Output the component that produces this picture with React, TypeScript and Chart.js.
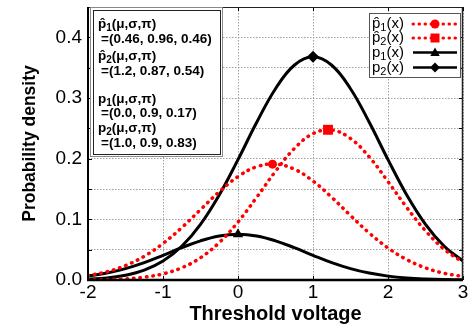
import React, { useEffect, useRef } from "react";
import { Chart, registerables } from "chart.js";

Chart.register(...registerables);

const FONT = '"Liberation Sans", Arial, Helvetica, sans-serif';

// x grid of the curves
const xValues = [-2, -1.75, -1.5, -1.25, -1, -0.75, -0.5, -0.25, 0, 0.25, 0.5, 0.75, 1, 1.25, 1.5, 1.75, 2, 2.25, 2.5, 2.75, 3];
// estimated mixture densities
const pHat1 = [0.0072, 0.0135, 0.0238, 0.0391, 0.0602, 0.0864, 0.116, 0.1455, 0.1705, 0.1867, 0.191, 0.1827, 0.1632, 0.1363, 0.1063, 0.0775, 0.0528, 0.0336, 0.02, 0.0111, 0.0058];
const pHat2 = [0.0003, 0.0008, 0.002, 0.0047, 0.0101, 0.0201, 0.0367, 0.0617, 0.0956, 0.1364, 0.1791, 0.2166, 0.2412, 0.2472, 0.2333, 0.2028, 0.1622, 0.1195, 0.0811, 0.0506, 0.0291];
// true densities
const p1 = [0.0064, 0.0114, 0.0188, 0.0287, 0.0407, 0.0533, 0.0646, 0.0725, 0.0754, 0.0725, 0.0646, 0.0533, 0.0407, 0.0287, 0.0188, 0.0114, 0.0064, 0.0033, 0.0016, 0.0007, 0.0003];
const p2 = [0.0014, 0.0035, 0.0078, 0.0162, 0.0312, 0.0556, 0.0918, 0.1402, 0.1984, 0.26, 0.3153, 0.354, 0.3679, 0.354, 0.3153, 0.26, 0.1984, 0.1402, 0.0918, 0.0556, 0.0312];

// peak markers (pHat1, pHat2, p1, p2)
const peakX = [0.46, 1.2, 0.0, 1.0];
const peakY = [0.191, 0.2476, 0.0754, 0.3679];

const legendBase = ["p\u0302", "p\u0302", "p", "p"];
const legendSub = ["1", "2", "1", "2"];
const markerStyles = ["circle", "rect", "triangle", "diamond"];
const paramLines = ["=(0.46, 0.96, 0.46)", "=(1.2, 0.87, 0.54)", "=(0.0, 0.9, 0.17)", "=(1.0, 0.9, 0.83)"];

const xTickMin = -2;
const xTickMax = 3;
const xTickStep = 1;
const yTickMin = 0;
const yTickMax = 0.45;
const yTickStep = 0.05;

const RED = "#ff0000";
const BLACK = "#000000";

function drawMarker(ctx: CanvasRenderingContext2D, style: string, x: number, y: number, r: number, color: string) {
  ctx.save();
  ctx.fillStyle = color;
  ctx.beginPath();
  if (style === "circle") {
    ctx.arc(x, y, r, 0, Math.PI * 2);
  } else if (style === "rect") {
    ctx.rect(x - r, y - r, 2 * r, 2 * r);
  } else if (style === "triangle") {
    ctx.moveTo(x, y - r * 1.1);
    ctx.lineTo(x + r * 1.05, y + r * 0.75);
    ctx.lineTo(x - r * 1.05, y + r * 0.75);
    ctx.closePath();
  } else {
    ctx.moveTo(x - r * 1.1, y);
    ctx.lineTo(x, y - r * 1.1);
    ctx.lineTo(x + r * 1.1, y);
    ctx.lineTo(x, y + r * 1.1);
    ctx.closePath();
  }
  ctx.fill();
  ctx.restore();
}

const decorPlugin = {
  id: "decor",
  afterDraw(chart: any) {
    const ctx: CanvasRenderingContext2D = chart.ctx;
    const { left, right, top, bottom } = chart.chartArea;
    const xs = chart.scales.x;
    const ys = chart.scales.y;
    ctx.save();

    // inward tick marks
    ctx.strokeStyle = "#000";
    ctx.lineWidth = 1;
    ctx.beginPath();
    ys.ticks.forEach((t: any) => {
      const y = Math.round(ys.getPixelForValue(t.value)) + 0.5;
      ctx.moveTo(left, y);
      ctx.lineTo(left + 4, y);
      ctx.moveTo(right, y);
      ctx.lineTo(right - 4, y);
    });
    xs.ticks.forEach((t: any) => {
      const x = Math.round(xs.getPixelForValue(t.value)) + 0.5;
      ctx.moveTo(x, bottom);
      ctx.lineTo(x, bottom - 4);
      ctx.moveTo(x, top);
      ctx.lineTo(x, top + 4);
    });
    ctx.stroke();

    // frame
    ctx.strokeStyle = "#222";
    ctx.lineWidth = 1;
    ctx.beginPath();
    ctx.moveTo(left, top + 0.5);
    ctx.lineTo(right, top + 0.5);
    ctx.stroke();
    ctx.lineWidth = 1.5;
    ctx.beginPath();
    ctx.moveTo(right - 0.5, top);
    ctx.lineTo(right - 0.5, bottom);
    ctx.stroke();
    ctx.strokeStyle = "#000";
    ctx.lineWidth = 2;
    ctx.beginPath();
    ctx.moveTo(left, top);
    ctx.lineTo(left, bottom + 1);
    ctx.stroke();
    ctx.lineWidth = 2.5;
    ctx.beginPath();
    ctx.moveTo(left - 1, bottom);
    ctx.lineTo(right, bottom);
    ctx.stroke();

    // parameter text box
    ctx.fillStyle = "#fff";
    ctx.fillRect(91, 8, 132, 149);
    ctx.strokeStyle = "#888";
    ctx.lineWidth = 1;
    ctx.strokeRect(90.5, 7.5, 132, 149);
    ctx.strokeStyle = "#222";
    ctx.strokeRect(93.5, 10.5, 127, 144);

    const baselines = [28, 43, 60, 75, 103, 117, 132, 147];
    ctx.fillStyle = "#000";
    ctx.textBaseline = "alphabetic";
    ctx.textAlign = "left";
    const boxOrder = [0, 1, 2, 3];
    boxOrder.forEach((i, k) => {
      const by = baselines[k * 2];
      let x = 98;
      ctx.font = `bold 13.5px ${FONT}`;
      ctx.fillText(legendBase[i], x, by);
      x += ctx.measureText("p").width;
      ctx.font = `bold 10px ${FONT}`;
      ctx.fillText(legendSub[i], x, by + 3);
      x += ctx.measureText(legendSub[i]).width;
      ctx.font = `bold 13.5px ${FONT}`;
      ctx.fillText("(\u03bc,\u03c3,\u03c0)", x, by);
      ctx.fillText(paramLines[i], 101, baselines[k * 2 + 1]);
    });

    // legend
    ctx.fillStyle = "#fff";
    ctx.fillRect(369, 13, 92, 64);
    ctx.strokeStyle = "#555";
    ctx.lineWidth = 1;
    ctx.strokeRect(369.5, 13.5, 91, 64);
    const rows = [24, 38, 52.5, 67.5];
    rows.forEach((ry, i) => {
      ctx.fillStyle = "#000";
      ctx.textBaseline = "middle";
      let x = 372;
      ctx.font = `15px ${FONT}`;
      ctx.fillText(legendBase[i], x, ry);
      x += ctx.measureText("p").width;
      ctx.font = `11px ${FONT}`;
      ctx.fillText(legendSub[i], x, ry + 4);
      x += ctx.measureText(legendSub[i]).width;
      ctx.font = `15px ${FONT}`;
      ctx.fillText("(x)", x, ry);
      const color = i < 2 ? RED : BLACK;
      ctx.save();
      ctx.strokeStyle = color;
      ctx.lineWidth = i < 2 ? 3 : 2.5;
      if (i < 2) {
        ctx.setLineDash([0.5, 5.5]);
        ctx.lineCap = "round";
      }
      ctx.beginPath();
      ctx.moveTo(413, ry);
      ctx.lineTo(457, ry);
      ctx.stroke();
      ctx.restore();
      drawMarker(ctx, markerStyles[i], 435, ry, 4.5, color);
    });

    ctx.restore();
  },
};

export default function App() {
  const ref = useRef<HTMLCanvasElement>(null);
  useEffect(() => {
    document.body.style.margin = "0";
    const pts = (arr: number[]) => xValues.map((x, i) => ({ x, y: arr[i] }));
    const dotted = {
      borderColor: RED,
      borderWidth: 3.5,
      borderDash: [0.5, 6],
      borderCapStyle: "round" as const,
      pointRadius: 0,
      tension: 0.4,
      fill: false,
    };
    const solid = {
      borderColor: BLACK,
      borderWidth: 3,
      pointRadius: 0,
      tension: 0.4,
      fill: false,
    };
    const marker = (i: number, style: string, r: number, color: string) => ({
      type: "scatter" as const,
      data: [{ x: peakX[i], y: peakY[i] }],
      pointStyle: style,
      pointRadius: r,
      backgroundColor: color,
      borderColor: color,
      borderWidth: 0,
      showLine: false,
    });
    const chart = new Chart(ref.current as HTMLCanvasElement, {
      type: "line",
      data: {
        datasets: [
          marker(0, "circle", 4.5, RED),
          marker(1, "rect", 7, RED),
          marker(2, "triangle", 6, BLACK),
          marker(3, "rectRot", 6, BLACK),
          { type: "line", label: "pHat1", data: pts(pHat1), ...dotted },
          { type: "line", label: "pHat2", data: pts(pHat2), ...dotted },
          { type: "line", label: "p1", data: pts(p1), ...solid },
          { type: "line", label: "p2", data: pts(p2), ...solid },
        ] as any,
      },
      options: {
        animation: false,
        responsive: false,
        maintainAspectRatio: false,
        layout: { padding: { top: 5, right: 5, left: 0, bottom: 0 } },
        plugins: {
          legend: { display: false },
          tooltip: { enabled: false },
        },
        scales: {
          x: {
            type: "linear",
            min: xTickMin,
            max: xTickMax,
            ticks: {
              stepSize: xTickStep,
              autoSkip: false,
              maxRotation: 0,
              color: "#000",
              padding: 1,
              font: { family: FONT, size: 19 },
            },
            grid: { color: "#a0a0a0", lineWidth: 1, drawTicks: false },
            border: { display: false, dash: [1.5, 1.5] },
            title: {
              display: true,
              text: "Threshold voltage",
              color: "#000",
              font: { family: FONT, size: 20, weight: "bold" },
              padding: { top: 0, bottom: 1 },
            },
            afterFit: (s: any) => {
              s.height = 47;
              s.paddingLeft = 0;
              s.paddingRight = 0;
            },
          },
          y: {
            type: "linear",
            min: yTickMin,
            max: yTickMax,
            ticks: {
              stepSize: yTickStep,
              autoSkip: false,
              color: "#000",
              padding: 6,
              font: { family: FONT, size: 19 },
              callback: (v: any) => {
                const n = Number(v) * 10;
                return Math.abs(n - Math.round(n)) < 1e-6 ? Number(v).toFixed(1) : "";
              },
            },
            grid: { color: "#a0a0a0", lineWidth: 1, drawTicks: false },
            border: { display: false, dash: [1.5, 1.5] },
            title: {
              display: true,
              text: "Probability density",
              color: "#000",
              font: { family: FONT, size: 17.5, weight: "bold" },
              padding: { top: 20, bottom: 0 },
            },
            afterFit: (s: any) => {
              s.width = 88;
              s.paddingTop = 0;
              s.paddingBottom = 0;
            },
          },
        },
      } as any,
      plugins: [decorPlugin],
    });
    return () => chart.destroy();
  }, []);
  return (
    <div style={{ width: 470, height: 327 }}>
      <canvas ref={ref} width={470} height={327} style={{ display: "block" }} />
    </div>
  );
}
